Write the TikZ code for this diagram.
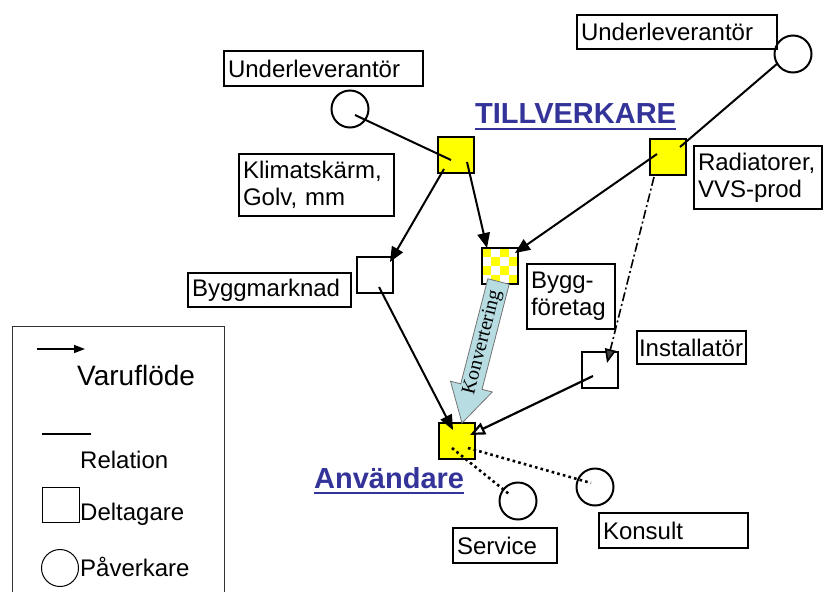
\documentclass[tikz,border=0pt]{standalone}
\usepackage{fontspec}
\setmainfont{Liberation Sans}
\newfontfamily\konvfont{Liberation Serif}
\usetikzlibrary{arrows.meta,calc}
\definecolor{ylw}{RGB}{255,255,0}
\definecolor{ttl}{RGB}{51,51,153}
\definecolor{konv}{RGB}{183,221,226}
\newcommand\lbl{\fontsize{24}{27}\selectfont}
\tikzset{
 tbox/.style={draw, line width=2pt, anchor=north west, inner xsep=4pt, inner ysep=0pt, align=left, font=\lbl},
 sq/.style={draw, line width=2pt, minimum size=36pt, inner sep=0pt, outer sep=0pt},
 circ/.style={circle, draw, line width=2pt, minimum size=37pt, inner sep=0pt},
 rel/.style={line width=2pt},
 flow/.style={line width=2pt, -{Triangle[length=15pt,width=12.5pt]}},
 ddflow/.style={line width=1.6pt, dash pattern=on 9pt off 3pt on 2pt off 3pt, -{Triangle[length=14pt,width=11pt,fill=black!75]}},
 oflow/.style={line width=2.2pt, -{Triangle[length=15pt,width=12.5pt,fill=white]}},
 dots/.style={line width=2.6pt, dash pattern=on 2.6pt off 3.2pt},
 title/.style={font=\bfseries\fontsize{29}{32}\selectfont, text=ttl, inner sep=0pt, anchor=base west},
 lt/.style={anchor=base west, inner sep=0pt, font=\lbl}
}
\begin{document}
\begin{tikzpicture}[x=1pt,y=-1pt]
\useasboundingbox (0,0) rectangle (824,592);

% text boxes
\node[tbox, text width=191pt, minimum height=35pt] (u1) at (223,50) {Underleverantör};
\node[tbox, text width=192pt, minimum height=34pt] (u2) at (576,14) {Underleverantör};
\node[tbox, text width=147pt, minimum height=62pt] (klim) at (238,153) {Klimatskärm,\\Golv, mm};
\node[tbox, text width=120pt, minimum height=63pt] (rad) at (693,145) {Radiatorer,\\VVS-prod};
\node[tbox, text width=80pt, minimum height=65pt] (byggf) at (526,263) {Bygg-\\företag};
\node[tbox, text width=155pt, minimum height=34pt] (bmk) at (187,272) {Byggmarknad};
\node[tbox, inner xsep=2pt, text width=105pt, minimum height=33pt] (inst) at (636,330) {Installatör};
\node[tbox, text width=96pt, minimum height=35pt] (serv) at (452,527) {Service};
\node[tbox, text width=141pt, minimum height=35pt] (kons) at (598,512) {Konsult};

% titles
\node[title] (t1) at (475,123) {TILLVERKARE};
\draw[line width=2pt, ttl] ([yshift=-6pt]t1.base west) -- ([yshift=-6pt]t1.base east);
\node[title] (t2) at (314,488) {Användare};
\draw[line width=2pt, ttl] ([yshift=-4.5pt]t2.base west) -- ([yshift=-4.5pt]t2.base east);

% squares
\node[sq, fill=ylw] (s1) at (456,155) {};
\node[sq, fill=ylw] (s2) at (668,157) {};
\node[sq, fill=white] (chk) at (500,266) {};
\foreach \i in {0,...,3}{\foreach \j in {0,...,3}{
  \pgfmathtruncatemacro\cpar{mod(\i+\j,2)}
  \ifnum\cpar=0 \fill[ylw] ($(chk.north west)+(9*\i,9*\j)$) rectangle ++(9,9);\fi}}
\draw[line width=2pt] (chk.north west) rectangle (chk.south east);
\node[sq, fill=white] (bm) at (375,275) {};
\node[sq, fill=white] (is) at (600,370) {};
\node[sq, fill=ylw] (anv) at (457,441) {};

% circles
\node[circ] (c1) at (350,109) {};
\node[circ] (c2) at (793,54) {};
\node[circ] (cs) at (518,501) {};
\node[circ] (ck) at (595,487) {};

% block arrow Konvertering
\coordinate (kb) at ($(chk.center)+(-1.5,15.5)$);
\coordinate (kt) at ($(anv.center)+(5,-18)$);
\coordinate (kh) at ($(kt)!37.6pt!(kb)$);
\filldraw[fill=konv, draw=black!55, line width=0.8pt] (kt) -- ($(kh)!21.6pt!90:(kb)$) -- ($(kh)!11pt!90:(kb)$) -- ($(kb)!11pt!-90:(kh)$) -- ($(kb)!11pt!90:(kh)$) -- ($(kh)!11pt!-90:(kb)$) -- ($(kh)!21.6pt!-90:(kb)$) -- cycle;
\path (kt) -- (kb) node[pos=0.57, sloped, inner sep=0pt, font=\konvfont\fontsize{20}{22}\selectfont] (kv) {Konvertering};

% connectors
\draw[rel] ($(c1.center)+(5,6)$) -- ($(s1.center)+(-5,5)$);
\draw[rel] ($(c2.center)+(-15,9)$) -- ($(s2.center)+(12,-10)$);
\draw[flow] ($(s1.center)+(-12,14)$) -- ($(bm.center)+(15,-13)$);
\draw[flow] ($(s1.center)+(11,7)$) -- ($(chk.center)+(-13,-18)$);
\draw[flow] ($(s2.center)+(-11,-3)$) -- ($(chk.center)+(15,-13)$);
\draw[ddflow] ($(s2.center)+(-14,20)$) -- ($(is.center)+(7,-7)$);
\draw[flow] ($(bm.center)+(4,12)$) -- ($(anv.center)+(-4,-11)$);
\draw[oflow] ($(is.center)+(-7,6)$) -- ($(anv.center)+(13,-6)$);
\draw[dots] ($(anv.center)+(-5,7)$) -- ($(cs.center)+(-9,-7)$);
\draw[dots] ($(anv.center)+(11,7)$) -- ($(ck.center)+(-4,-4)$);

% legend
\draw[line width=1pt, black!80] (12,592) -- (12,326) -- (224,326) -- (224,592);
\coordinate (la1) at (37,349);
\coordinate (la2) at (85,349);
\draw[line width=1.5pt, -{Triangle[length=11pt,width=8pt]}] (la1) -- (la2);
\node[lt, font=\fontsize{28}{30}\selectfont] (lv) at (77,385) {Varuflöde};
\coordinate (lr1) at (42,434);
\coordinate (lr2) at (91,434);
\draw[line width=2pt] (lr1) -- (lr2);
\node[lt] (lr) at (80,468) {Relation};
\node[draw, line width=1pt, minimum width=37pt, minimum height=35pt, inner sep=0pt, anchor=north west] (lsq) at (42,487) {};
\node[lt] (ld) at (80,520) {Deltagare};
\node[circle, draw, line width=1pt, minimum size=37pt, inner sep=0pt] (lc) at (60,568) {};
\node[lt] (lp) at (80,576) {Påverkare};
\end{tikzpicture}
\end{document}
